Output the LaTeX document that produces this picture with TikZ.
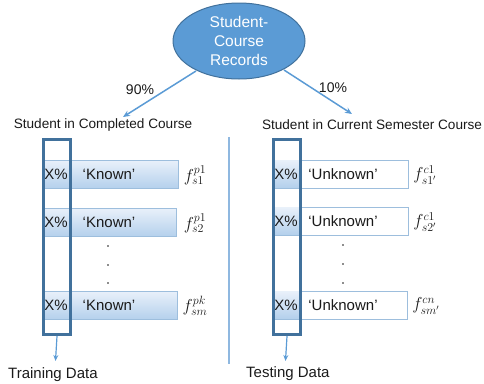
\documentclass[tikz,border=0pt]{standalone}
\usepackage{fontspec}
\setmainfont{Liberation Sans}
\usetikzlibrary{shapes.geometric,arrows.meta}
\definecolor{ellfill}{HTML}{5B9BD5}
\definecolor{elldraw}{HTML}{41719C}
\definecolor{arrowc}{HTML}{5B9BD5}
\definecolor{colc}{HTML}{41719C}
\definecolor{sepc}{HTML}{8FB8E0}
\definecolor{boxedge}{HTML}{9DBEDD}
\definecolor{gtop}{HTML}{E8F0FA}
\definecolor{gbot}{HTML}{B4D0EC}
\definecolor{txt}{HTML}{1A1A1A}
\begin{document}
\begin{tikzpicture}[x=1pt,y=-1pt,
  rowbox/.style={draw=boxedge,line width=1pt,top color=gtop,bottom color=gbot,minimum width=136pt,minimum height=28pt,anchor=north west,inner sep=0pt},
  rowboxw/.style={draw=boxedge,line width=1pt,fill=white,minimum width=136pt,minimum height=28pt,anchor=north west,inner sep=0pt},
  cellshade/.style={top color=gtop,bottom color=gbot,minimum width=27pt,minimum height=27pt,anchor=north west,inner sep=0pt},
  colbox/.style={draw=colc,line width=3pt,minimum width=27pt,minimum height=195pt,anchor=north west,inner sep=0pt},
  rowtxt/.style={text=txt,font=\fontsize{15}{17}\selectfont,inner sep=0pt},
  headtxt/.style={text=txt,font=\fontsize{13.6}{16}\selectfont,inner sep=0pt},
  pcttxt/.style={text=txt,font=\fontsize{14}{16}\selectfont,inner sep=0pt},
  flab/.style={text=txt,font=\fontsize{16.5}{18}\selectfont,inner sep=0pt},
  conn/.style={draw=arrowc,line width=1.5pt,-{Stealth[length=7pt,width=6pt]}},
  downarr/.style={draw=arrowc,line width=1.2pt,-{Stealth[length=6pt,width=5pt]}},
  dotmark/.style={circle,fill=txt,inner sep=0pt,minimum size=1.6pt}
]
\useasboundingbox (0,0) rectangle (484,383);

% top ellipse
\node[ellipse,draw=elldraw,line width=1pt,fill=ellfill,minimum width=132pt,minimum height=76pt,inner sep=0pt,
  text=white,align=center,font=\fontsize{15.5}{19}\selectfont] (rec) at (239,41) {Student-\\Course\\Records};

% headers
\node[headtxt] (lhead) at (103,125) {Student in Completed Course};
\node[headtxt] (rhead) at (372,125) {Student in Current Semester Course};

\coordinate (la) at (196,71);
\coordinate (lb) at (123,117);
\coordinate (ra) at (284,70);
\coordinate (rb) at (352,114);
\draw[conn] (la) -- (lb);
\draw[conn] (ra) -- (rb);
\node[pcttxt] (p90) at (140,90) {90\%};
\node[pcttxt] (p10) at (333,88) {10\%};

% separator
\coordinate (s1) at (229,137);
\coordinate (s2) at (229,364);
\draw[draw=sepc,line width=1.5pt] (s1) -- (s2);

% left rows
\node[rowbox] (l1) at (42,160) {};
\node[rowbox,minimum width=134pt] (l2) at (42,208) {};
\node[rowbox,minimum width=135pt] (l3) at (42,291) {};
\foreach \n/\y in {1/174, 2/222, 3/305}{
  \node[rowtxt] (lx\n) at (56,\y) {X\%};
  \node[rowtxt] (lk\n) at (109,\y) {‘Known’};
}
\node[flab] (lf1) at (195,175) {$f_{s1}^{p1}$};
\node[flab] (lf2) at (195,223) {$f_{s2}^{p1}$};
\node[flab] (lf3) at (195,306) {$f_{sm}^{pk}$};
\node[dotmark] (ld1) at (108,246) {};
\node[dotmark] (ld2) at (108,265) {};
\node[dotmark] (ld3) at (108,283) {};

% right rows
\node[rowboxw] (r1) at (272,160) {};
\node[rowboxw] (r2) at (272,207) {};
\node[rowboxw,minimum width=135pt] (r3) at (272,291) {};
\node[cellshade] (rc1) at (272,160.5) {};
\node[cellshade] (rc2) at (272,207.5) {};
\node[cellshade] (rc3) at (272,291.5) {};
\foreach \n/\y in {1/174, 2/221, 3/305}{
  \node[rowtxt] (rx\n) at (286,\y) {X\%};
  \node[rowtxt] (rk\n) at (343,\y) {‘Unknown’};
}
\node[flab] (rf1) at (425,175) {$f_{s1'}^{c1}$};
\node[flab] (rf2) at (425,222) {$f_{s2'}^{c1}$};
\node[flab] (rf3) at (426,306) {$f_{sm'}^{cn}$};
\node[dotmark] (rd1) at (343,245) {};
\node[dotmark] (rd2) at (343,264) {};
\node[dotmark] (rd3) at (343,283) {};

% tall column boxes
\node[colbox] (lcol) at (42,138) {};
\node[colbox] (rcol) at (272,138) {};

% bottom arrows and labels
\node[rowtxt,anchor=west] (train) at (8,375) {Training Data};
\node[rowtxt,anchor=west] (test) at (246,374) {Testing Data};
\coordinate (lt) at (55.5,361);
\coordinate (rt) at (285.5,361);
\draw[downarr] (lcol.south) -- (lt);
\draw[downarr] (rcol.south) -- (rt);
\end{tikzpicture}
\end{document}
